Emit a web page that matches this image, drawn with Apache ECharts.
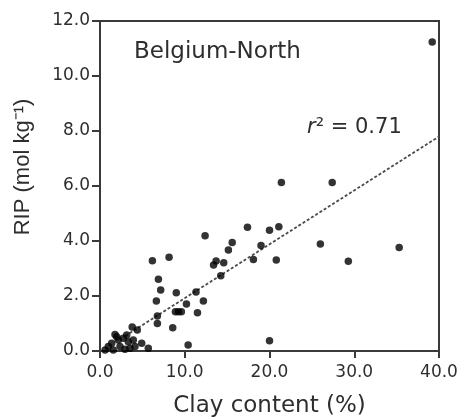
<!DOCTYPE html>
<html>
<head>
<meta charset="utf-8">
<script src="https://cdn.jsdelivr.net/npm/echarts@6/dist/echarts.min.js"></script>
<style>html,body{margin:0;padding:0;background:#fff}#c{width:465px;height:418px}</style>
</head>
<body>
<div id="c"></div>
<script>
// Clay content (%) and RIP (mol/kg) for each sample
const clay = [39.2, 21.4, 27.4, 12.4, 17.4, 20.0, 21.1, 15.6, 15.15, 19.0, 26.0, 35.3, 29.3, 20.8, 18.1, 20.0,
  12.2, 14.25, 13.4, 13.7, 14.6, 6.18, 8.15, 6.89, 7.16, 6.65, 9.0, 11.33, 10.2, 8.9, 9.25, 9.6, 11.5, 6.77, 6.77,
  8.58, 10.4, 5.7, 3.8, 4.4, 1.77, 0.98, 1.38, 2.16, 2.75, 3.34, 3.93, 4.92, 0.6, 1.57, 2.95, 3.54, 4.13, 2.36, 1.97, 3.15];
const rip = [11.24, 6.13, 6.13, 4.19, 4.5, 4.39, 4.52, 3.95, 3.67, 3.84, 3.89, 3.76, 3.26, 3.31, 3.33, 0.37,
  1.82, 2.74, 3.13, 3.27, 3.21, 3.28, 3.41, 2.61, 2.22, 1.82, 2.12, 2.15, 1.71, 1.43, 1.43, 1.43, 1.39, 1.27, 1.0,
  0.85, 0.22, 0.1, 0.87, 0.76, 0.6, 0.16, 0.28, 0.4, 0.46, 0.34, 0.4, 0.28, 0.04, 0.04, 0.06, 0.1, 0.16, 0.16, 0.52, 0.58];
// regression line end points
const fitX = [3.0, 40.0];
const fitY = [0.55, 7.8];
const xTicks = [0, 10, 20, 30, 40];
const yTicks = [0, 2, 4, 6, 8, 10, 12];
const panelLabel = 'Belgium-North';
const r2Label = '0.71';

const points = clay.map((x, i) => [x, rip[i]]);
const fitLine = fitX.map((x, i) => [x, fitY[i]]);

const chart = echarts.init(document.getElementById('c'), null, {renderer: 'canvas'});
const axisColor = '#3a3a3a';
const textColor = '#2e2e2e';
chart.setOption({
  animation: false,
  backgroundColor: '#fff',
  grid: {left: 100, top: 21, width: 339, height: 330, show: true, borderColor: axisColor, borderWidth: 2,
         containLabel: false, outerBoundsMode: 'none'},
  xAxis: {
    type: 'value', min: xTicks[0], max: xTicks[xTicks.length - 1], interval: 10,
    axisLine: {show: true, onZero: false, lineStyle: {color: axisColor, width: 2}},
    axisTick: {show: true, length: 7, lineStyle: {color: axisColor, width: 2}},
    axisLabel: {formatter: v => v.toFixed(1), fontSize: 17, fontFamily: 'DejaVu Sans', color: textColor, margin: 13},
    splitLine: {show: false},
    name: 'Clay content (%)', nameLocation: 'middle', nameGap: 44,
    nameTextStyle: {fontSize: 23, fontFamily: 'DejaVu Sans', color: textColor}
  },
  yAxis: {
    type: 'value', min: yTicks[0], max: yTicks[yTicks.length - 1], interval: 2,
    axisLine: {show: true, onZero: false, lineStyle: {color: axisColor, width: 2}},
    axisTick: {show: true, length: 8, lineStyle: {color: axisColor, width: 2}},
    axisLabel: {formatter: v => v.toFixed(1), fontSize: 17, fontFamily: 'DejaVu Sans', color: textColor, margin: 10},
    splitLine: {show: false}
  },
  graphic: [
    {type: 'text', left: 134, top: 41, style: {text: panelLabel, font: '23px "DejaVu Sans"', fill: textColor}},
    {type: 'text', left: 307, top: 117, style: {
      text: '{i|r}{n|² = ' + r2Label + '}',
      rich: {i: {fontStyle: 'italic', fontSize: 21, fontFamily: 'DejaVu Sans', fill: textColor},
             n: {fontSize: 21, fontFamily: 'DejaVu Sans', fill: textColor}}
    }},
    {type: 'text', x: 23, y: 167, rotation: Math.PI / 2, style: {
      text: 'RIP (mol kg⁻¹)', font: '22px "Liberation Sans"', fill: textColor, align: 'center', verticalAlign: 'middle'}}
  ],
  series: [
    {type: 'line', data: fitLine, symbol: 'none', silent: true, z: 1,
     lineStyle: {color: '#4a4a4a', width: 1.8, type: [3, 2]}},
    {type: 'scatter', data: points, symbol: 'circle', symbolSize: 7.5, z: 2,
     itemStyle: {color: '#000'}}
  ]
});
</script>
</body>
</html>
